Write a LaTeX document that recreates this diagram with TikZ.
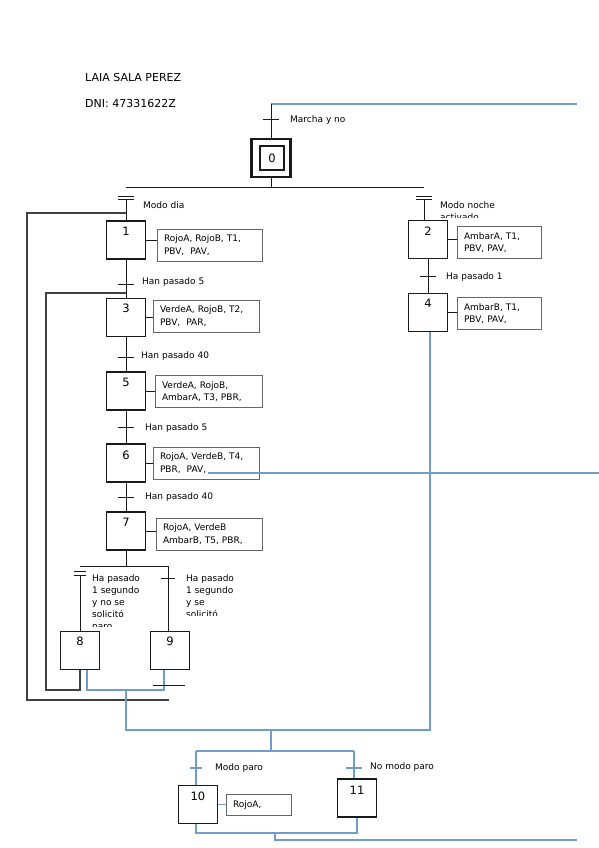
\documentclass[tikz,border=0pt]{standalone}
\usepackage{fontspec}
\setmainfont{DejaVu Sans}
\definecolor{bluec}{RGB}{114,155,206}
\begin{document}
\begin{tikzpicture}[x=1pt,y=-1pt,
  every node/.style={inner sep=0pt},
  stepbox/.style={draw=black!90, line width=1.8pt, minimum width=39pt, minimum height=38pt},
  num/.style={font=\fontsize{11.5}{12}\selectfont},
  act/.style={draw=black!60, line width=0.8pt, inner xsep=7pt, inner ysep=0pt, align=left,
    font=\fontsize{9}{12.5}\selectfont, minimum height=32pt, text width=#1},
  lab/.style={anchor=west, font=\fontsize{9}{12}\selectfont},
  mlab/.style={anchor=north west, align=left, font=\fontsize{9}{12}\selectfont},
  hdr/.style={anchor=west, font=\fontsize{11}{12}\selectfont},
  ln/.style={draw=black!90, line width=1pt},
  lp/.style={draw=black!75, line width=1.1pt},
  bl/.style={draw=bluec, line width=1.2pt},
]
\useasboundingbox (0,0) rectangle (599,848);

% header
\node[hdr] (name) at (85,77) {LAIA SALA PEREZ};
\node[hdr] (dni) at (85,103) {DNI: 47331622Z};

% steps
\node[stepbox, line width=2.3pt] (s0) at (271,158) {};
\node[draw=black!90, line width=1.6pt, minimum width=24pt, minimum height=24pt, num] (s0i) at (272,158) {0};
\node[stepbox] (s1) at (126,240) {}; \node[num] (n1) at (126,231) {1};
\node[stepbox] (s3) at (126,317.5) {}; \node[num] (n3) at (126,308) {3};
\node[stepbox] (s5) at (126,391) {}; \node[num] (n5) at (126,382) {5};
\node[stepbox] (s6) at (126,463) {}; \node[num] (n6) at (126,455) {6};
\node[stepbox] (s7) at (126,531) {}; \node[num] (n7) at (126,522) {7};
\node[stepbox] (s8) at (80,650.5) {}; \node[num] (n8) at (80,641) {8};
\node[stepbox] (s9) at (170,650.5) {}; \node[num] (n9) at (170,641) {9};
\node[stepbox] (s2) at (428,239.5) {}; \node[num] (n2) at (428,231) {2};
\node[stepbox] (s4) at (428,312.5) {}; \node[num] (n4) at (428,303) {4};
\node[stepbox] (s10) at (198,804.5) {}; \node[num] (n10) at (198,796) {10};
\node[stepbox] (s11) at (357,798) {}; \node[num] (n11) at (357,790) {11};

% actions
\node[act=91pt] (a1) at (209.5,245) {RojoA, RojoB, T1,\\PBV,~ PAV,};
\node[act=92pt] (a3) at (206,316) {VerdeA, RojoB, T2,\\PBV,~ PAR,};
\node[act=93pt] (a5) at (208.5,391.5) {VerdeA, RojoB,\\AmbarA, T3, PBR,};
\node[act=92pt] (a6) at (206,463) {RojoA, VerdeB, T4,\\PBR,~ PAV,};
\node[act=92pt] (a7) at (209,534) {RojoA, VerdeB\\AmbarB, T5, PBR,};
\node[act=70pt] (a2) at (499,242.5) {AmbarA, T1,\\PBV, PAV,};
\node[act=70pt] (a4) at (499,313.5) {AmbarB, T1,\\PBV, PAV,};
\node[act=51pt, minimum height=21pt] (a10) at (258.5,805) {RojoA,};

\draw[ln] (s1.east) -- (a1.west |- s1.east);
\draw[ln] (s3.east) -- (a3.west |- s3.east);
\draw[ln] (s5.east) -- (a5.west |- s5.east);
\draw[ln] (s6.east) -- (a6.west |- s6.east);
\draw[ln] (s7.east) -- (a7.west |- s7.east);
\draw[ln] (s2.east) -- (a2.west |- s2.east);
\draw[ln] (s4.east) -- (a4.west |- s4.east);
\draw[bl] (s10.east) -- (a10.west |- s10.east);

% top
\coordinate (top0) at (271,104);
\coordinate (blueR) at (577,104);
\draw[bl] (top0) -- (blueR);
\draw[ln] (top0) -- (top0 |- s0.north);
\coordinate (t0) at (271,120);
\draw[ln] (t0) ++(-8,0) -- ++(16,0);
\node[lab] (l0) at (290,120) {Marcha y no};

\coordinate (d0) at (271,187);
\draw[ln] (s0.south) -- (d0);
\coordinate (dL) at (126,187);
\coordinate (dR) at (424,187);
\draw[ln] (dL) -- (dR);

% Modo dia
\coordinate (tdia) at (126,199.5);
\draw[ln] (tdia) -- (tdia |- s1.north);
\draw[ln] (tdia) ++(-8,0) -- ++(16,0) ++(-16,-3.5) -- ++(16,0);
\node[lab] (ldia) at (143,205) {Modo dia};

% outer loop
\coordinate (lo1) at (126,213);
\coordinate (lo2) at (27,213);
\coordinate (lo3) at (27,700);
\coordinate (lo4) at (169,700);
\draw[lp] (lo1) -- (lo2) -- (lo3) -- (lo4);

% Modo noche
\coordinate (tn) at (424,199.5);
\draw[ln] (tn) -- (tn |- s2.north);
\draw[ln] (tn) ++(-8,0) -- ++(16,0) ++(-16,-3.5) -- ++(16,0);
\node[lab] (lnoche) at (440,205) {Modo noche};
\begin{scope}
\clip (430,190) rectangle (560,217.5);
\node[lab] (lact) at (440,217) {activado};
\end{scope}

% main column
\draw[ln] (s1.south) -- (s3.north);
\draw[ln] (s3.south) -- (s5.north);
\draw[ln] (s5.south) -- (s6.north);
\draw[ln] (s6.south) -- (s7.north);
\coordinate (t13) at (126,284.5);
\coordinate (t35) at (126,357);
\coordinate (t56) at (126,427);
\coordinate (t67) at (126,497);
\foreach \t in {t13,t35,t56,t67} {\draw[ln] (\t) ++(-8,0) -- ++(16,0);}
\node[lab] (l13) at (142,282) {Han pasado 5};
\node[lab] (l35) at (141,356) {Han pasado 40};
\node[lab] (l56) at (145,428) {Han pasado 5};
\node[lab] (l67) at (145,497) {Han pasado 40};

% inner loop
\coordinate (li1) at (126,293);
\coordinate (li2) at (46,293);
\coordinate (li3) at (46,690);
\coordinate (li4) at (80,690);
\draw[lp] (li1) -- (li2) -- (li3) -- (li4) -- (li4 |- s8.south);

% divergence after 7
\coordinate (d7) at (126,566);
\draw[ln] (s7.south) -- (d7);
\coordinate (d7L) at (80,566);
\coordinate (d7R) at (168,566);
\draw[ln] (d7L) -- (d7R);
\coordinate (t78) at (80,575);
\draw[ln] (t78) -- (t78 |- s8.north);
\draw[ln] (t78) ++(-6,0) -- ++(12,0) ++(-12,-3.5) -- ++(12,0);
\draw[ln] (d7R) -- (d7R |- s9.north);
\coordinate (t79) at (168,578);
\draw[ln] (t79) ++(-7,0) -- ++(14,0);
\begin{scope}
\clip (88,570) rectangle (160,626);
\node[mlab] (l78) at (92,574.5) {Ha pasado\\1 segundo\\y no se\\solicitó\\paro};
\end{scope}
\begin{scope}
\clip (182,570) rectangle (260,615.5);
\node[mlab] (l79) at (186,574.5) {Ha pasado\\1 segundo\\y se\\solicitó};
\end{scope}

% night branch
\draw[ln] (s2.south) -- (s4.north);
\coordinate (t24) at (428,276);
\draw[ln] (t24) ++(-8,0) -- ++(16,0);
\node[lab] (l24) at (446,277) {Ha pasado 1};

% blue lines
\coordinate (b6a) at (208,473);
\coordinate (b6b) at (599,473);
\draw[bl] (b6a) -- (b6b);
\coordinate (b8a) at (87,690);
\coordinate (b9a) at (164,690);
\draw[bl] (b8a |- s8.south) -- (b8a) -- (b9a) -- (b9a |- s9.south);
\coordinate (bm) at (126,690);
\coordinate (bm2) at (126,730);
\coordinate (b4) at (430,730);
\draw[bl] (bm) -- (bm2) -- (b4) -- (b4 |- s4.south);
\coordinate (bc) at (271,730);
\coordinate (bc2) at (271,751);
\draw[bl] (bc) -- (bc2);
\coordinate (b10) at (196,751);
\coordinate (b11) at (354,751);
\draw[bl] (b10) -- (b11);
\draw[bl] (b10) -- (b10 |- s10.north);
\draw[bl] (b11) -- (b11 |- s11.north);
\coordinate (t10) at (196,768);
\coordinate (t11) at (354,768);
\draw[bl] (t10) ++(-6,0) -- ++(12,0);
\draw[bl] (t11) ++(-8,0) -- ++(16,0);
\node[lab] (l10) at (215,768) {Modo paro};
\node[lab] (l11) at (370,767) {No modo paro};
\coordinate (e10) at (196,833);
\coordinate (e11) at (357,833);
\draw[bl] (e10 |- s10.south) -- (e10) -- (e11) -- (e11 |- s11.south);
\coordinate (e2) at (275,833);
\coordinate (e3) at (275,840);
\coordinate (e4) at (577,840);
\draw[bl] (e2) -- (e3) -- (e4);

% stray bar
\coordinate (st1) at (153,685);
\coordinate (st2) at (185,685);
\draw[ln] (st1) -- (st2);
\end{tikzpicture}
\end{document}
